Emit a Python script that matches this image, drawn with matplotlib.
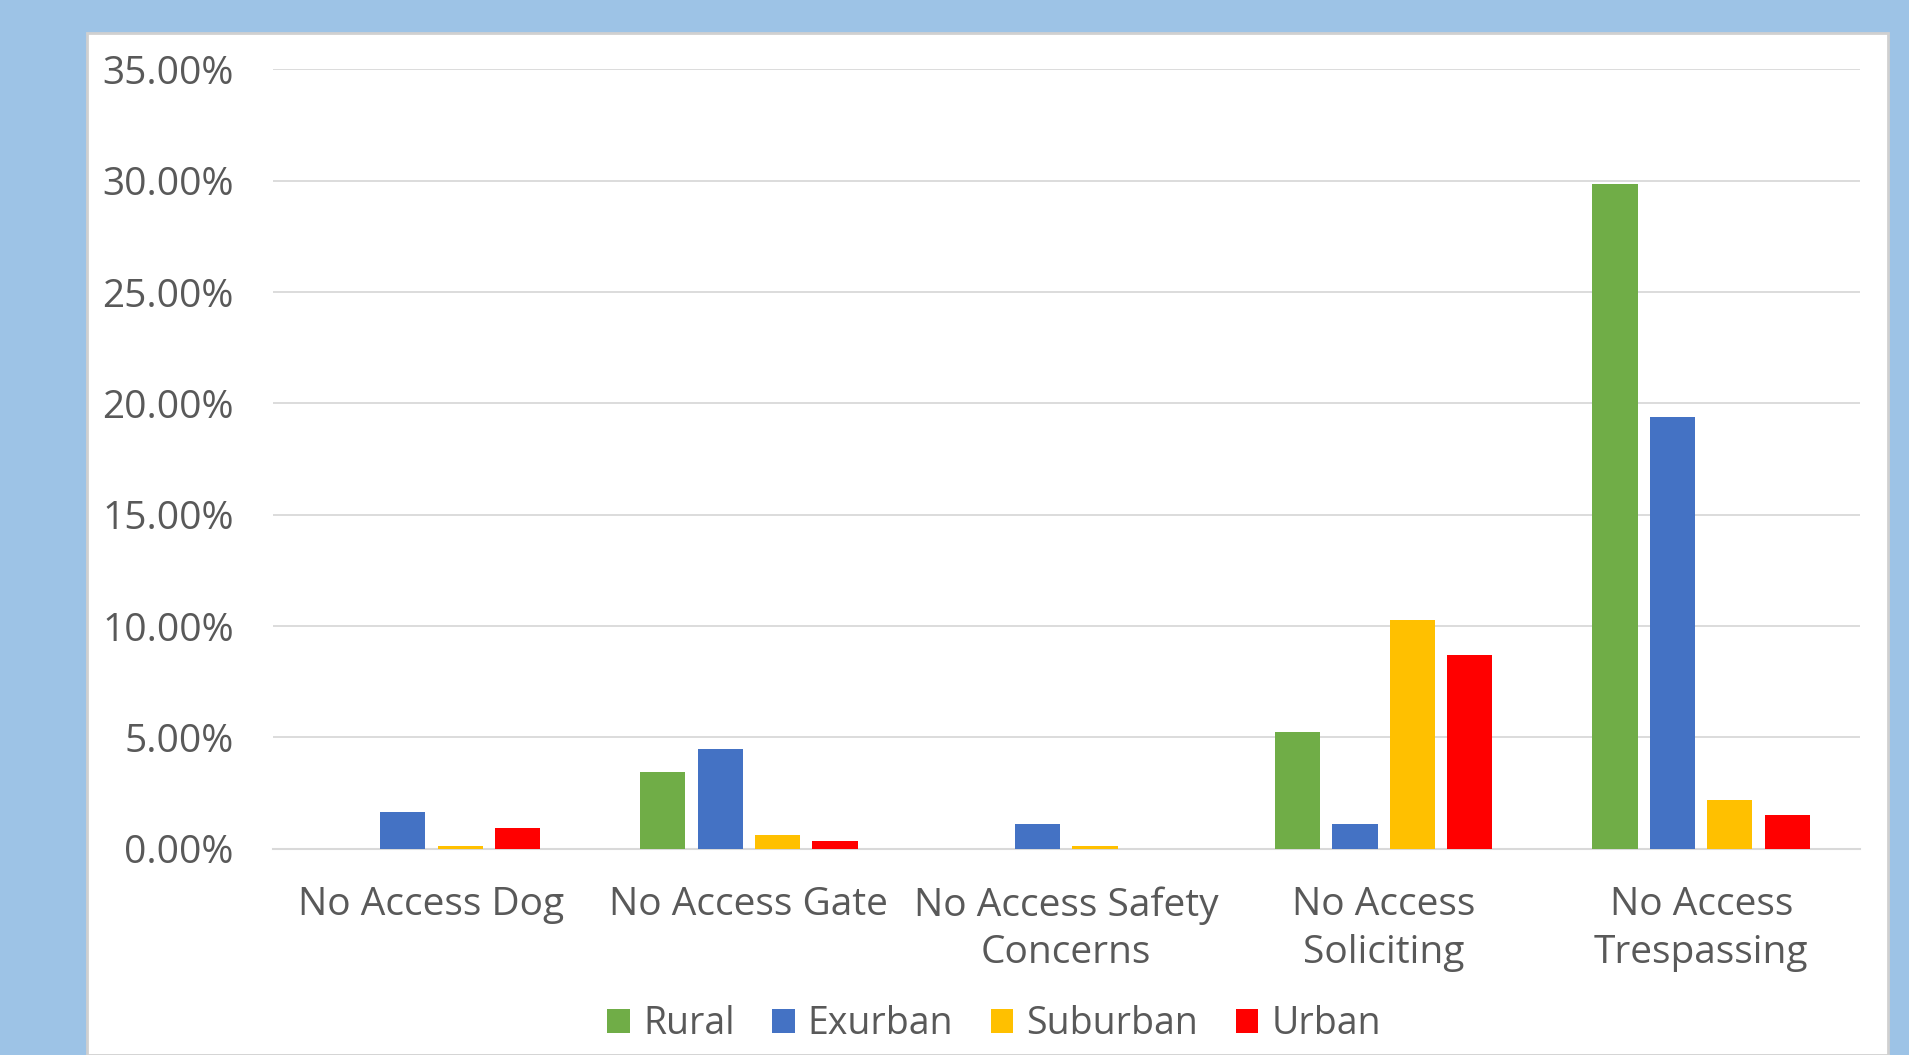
import matplotlib
matplotlib.use("Agg")
import matplotlib.pyplot as plt
from matplotlib.patches import Rectangle
from matplotlib.ticker import FuncFormatter
import numpy as np

categories = ["No Access Dog", "No Access Gate", "No Access Safety\nConcerns",
              "No Access\nSoliciting", "No Access\nTrespassing"]
series_names = ["Rural", "Exurban", "Suburban", "Urban"]
rural = [0.0, 3.45, 0.0, 5.25, 29.86]
exurban = [1.64, 4.48, 1.09, 1.09, 19.41]
suburban = [0.10, 0.60, 0.10, 10.28, 2.19]
urban = [0.93, 0.33, 0.0, 8.70, 1.53]
colors = ["#70AD47", "#4472C4", "#FFC000", "#FF0000"]

plt.rcParams['font.family'] = ['Open Sans', 'DejaVu Sans']
text_color = '#595959'

fig = plt.figure(figsize=(19.09, 10.55), dpi=100)
fig.patch.set_facecolor('#9DC3E6')
# white chart panel behind the axes
fig.patches.append(Rectangle((87 / 1909, 0), (1888 - 87) / 1909, 1 - 33 / 1055,
                             transform=fig.transFigure, facecolor='white',
                             edgecolor='#D0D0D0', linewidth=2, zorder=-10))

ax = fig.add_axes([0.1428, 0.1956, 0.9743 - 0.1428, 0.9342 - 0.1956])
ax.set_facecolor('none')

xpos = np.arange(len(categories))
pitch = 0.181
width = 0.142
all_series = [rural, exurban, suburban, urban]
for i, (name, vals) in enumerate(zip(series_names, all_series)):
    ax.bar(xpos + (i - 1.5) * pitch, np.array(vals) / 100, width=width,
           color=colors[i], label=name, zorder=3)

ax.set_xlim(-0.5, len(categories) - 0.5)
ax.set_ylim(0, 0.35)
ax.set_yticks(np.arange(0, 0.351, 0.05))
ax.yaxis.set_major_formatter(FuncFormatter(lambda v, p: '%.2f%%' % (v * 100)))
ax.set_xticks(xpos, categories)
ax.grid(True, axis='y', color='#D9D9D9', linewidth=1.3, zorder=0)
ax.set_axisbelow(True)
for s in ['top', 'right', 'left']:
    ax.spines[s].set_visible(False)
ax.spines['bottom'].set_color('#D9D9D9')
ax.spines['bottom'].set_linewidth(1.5)
ax.tick_params(axis='both', length=0, labelsize=28, labelcolor=text_color)
ax.tick_params(axis='y', pad=28)
ax.tick_params(axis='x', pad=27)
for lbl in ax.get_xticklabels():
    lbl.set_linespacing(1.33)

fig.legend(loc='center', bbox_to_anchor=(994 / 1909, 1 - 1024 / 1055), ncol=4,
           frameon=False, fontsize=27, labelcolor=text_color, handlelength=0.6,
           handleheight=0.6, handletextpad=0.35, columnspacing=1.0)

fig.savefig('out.png', dpi=100, facecolor=fig.get_facecolor())
